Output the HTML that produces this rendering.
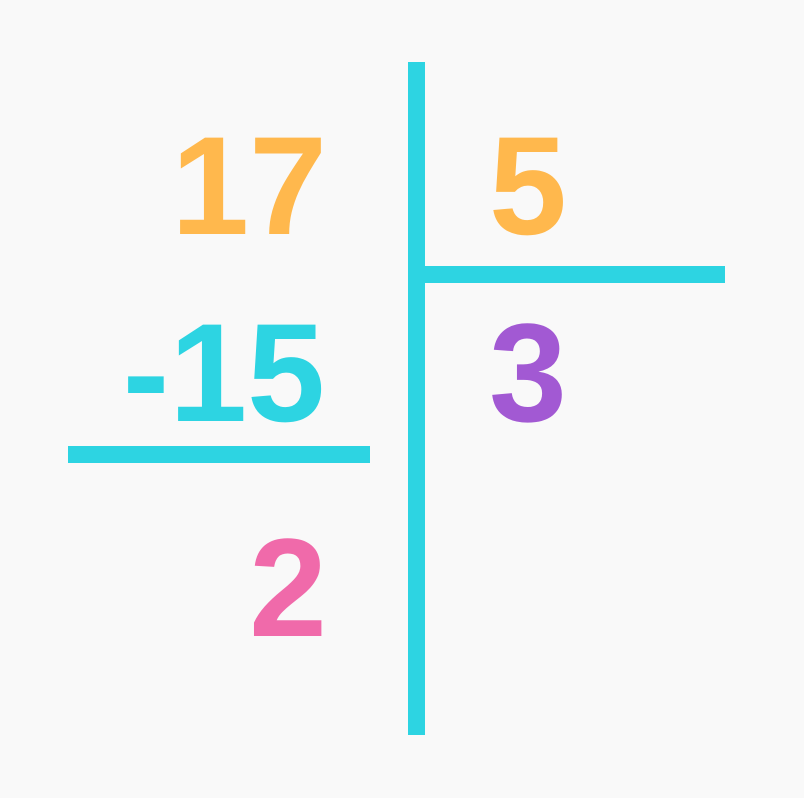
<!DOCTYPE html>
<html>
<head>
<meta charset="utf-8">
<style>
html,body{margin:0;padding:0;background:#f9f9f9;}
svg{display:block;}
text{font-family:"Liberation Sans",sans-serif;font-weight:bold;}
</style>
</head>
<body>
<svg width="804" height="798" viewBox="0 0 804 798">
  <rect x="0" y="0" width="804" height="798" fill="#f9f9f9"/>
  <rect x="408" y="62" width="17" height="673" fill="#2dd4e2"/>
  <rect x="408" y="266" width="317" height="17" fill="#2dd4e2"/>
  <rect x="68" y="446" width="302" height="17" fill="#2dd4e2"/>
  <text x="327" y="234" font-size="140" fill="#ffb84d" text-anchor="end">17</text>
  <text x="489" y="234" font-size="140" fill="#ffb84d">5</text>
  <text x="325" y="421" font-size="140" fill="#2dd4e2" text-anchor="end">-15</text>
  <text x="489" y="421" font-size="140" fill="#a259d3">3</text>
  <text x="327" y="636" font-size="140" fill="#f06aaa" text-anchor="end">2</text>
</svg>
</body>
</html>
